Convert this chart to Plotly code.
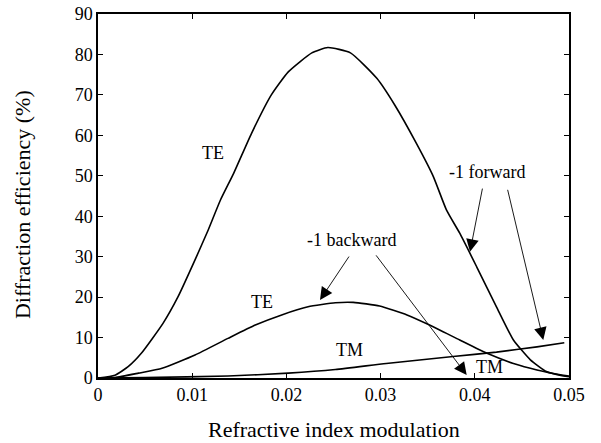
import plotly.graph_objects as go

# Data
te_fwd_x = [0, 0.0018, 0.0032, 0.0046, 0.0069, 0.0085, 0.0103, 0.0117, 0.0130, 0.0144,
            0.0163, 0.0184, 0.0202, 0.0227, 0.0244, 0.0268, 0.0296, 0.0315, 0.0338,
            0.0356, 0.0370, 0.0384, 0.0402, 0.0423, 0.0441, 0.0459, 0.0476, 0.0494, 0.0500]
te_fwd_y = [0, 0.7, 2.8, 6.1, 13.5, 20.1, 29.2, 36.6, 44.0, 50.6,
            60.5, 70.0, 75.7, 80.4, 81.7, 80.4, 74.1, 67.5, 58.0,
            49.8, 41.5, 35.8, 27.5, 17.6, 9.4, 4.5, 1.6, 0.5, 0.3]

te_bwd_x = [0, 0.0018, 0.0043, 0.0068, 0.0103, 0.0138, 0.0167, 0.0195, 0.0223, 0.0252,
            0.0271, 0.0299, 0.0328, 0.0352, 0.0384, 0.0413, 0.0441, 0.0466, 0.0494, 0.0500]
te_bwd_y = [0, 0.1, 1.2, 2.4, 5.7, 9.8, 13.1, 15.6, 17.6, 18.6,
            18.7, 17.8, 15.6, 13.1, 9.4, 6.1, 3.6, 2.0, 0.7, 0.5]

tm_x = [0, 0.005, 0.0138, 0.0202, 0.0252, 0.0306, 0.0377, 0.0423, 0.0466, 0.0495]
tm_y = [0, 0.1, 0.5, 1.2, 2.1, 3.6, 5.3, 6.4, 7.7, 8.7]

x_ticks = [0, 0.01, 0.02, 0.03, 0.04, 0.05]
x_tick_labels = ["0", "0.01", "0.02", "0.03", "0.04", "0.05"]
y_ticks = [0, 10, 20, 30, 40, 50, 60, 70, 80, 90]

FONT = "Liberation Serif, Times New Roman, serif"

fig = go.Figure()
for xs, ys in [(te_fwd_x, te_fwd_y), (te_bwd_x, te_bwd_y), (tm_x, tm_y)]:
    fig.add_trace(go.Scatter(x=xs, y=ys, mode="lines",
                             line=dict(color="black", width=1.6, shape="spline", smoothing=0.5),
                             showlegend=False, hoverinfo="skip", cliponaxis=True))

# Text labels
labels = [
    ("TE", 0.01221, 55.6),
    ("TE", 0.01738, 18.9),
    ("TM", 0.02675, 6.9),
    ("TM", 0.04154, 2.8),
    ("-1 backward", 0.02686, 34.1),
    ("-1 forward", 0.0413, 50.9),
]
for t, x, y in labels:
    fig.add_annotation(x=x, y=y, text=t, showarrow=False,
                       font=dict(family=FONT, size=18, color="black"))

# Arrows (tail -> tip)
arrows = [
    (0.02675, 30.4, 0.02357, 19.3),
    (0.0294, 30.7, 0.03914, 0.74),
    (0.04084, 47.2, 0.03949, 31.2),
    (0.04345, 46.9, 0.04727, 9.4),
]
for ax_, ay_, x, y in arrows:
    fig.add_annotation(x=x, y=y, ax=ax_, ay=ay_, axref="x", ayref="y",
                       text="", showarrow=True, arrowhead=2, arrowsize=2.8,
                       arrowwidth=0.9, arrowcolor="black")

# Axis titles
fig.add_annotation(xref="paper", yref="paper", x=0.5, y=0, yshift=-51,
                   text="Refractive index modulation", showarrow=False,
                   xanchor="center", yanchor="middle",
                   font=dict(family=FONT, size=22, color="black"))
fig.add_annotation(xref="paper", yref="paper", x=0, y=0.475, xshift=-76,
                   text="Diffraction efficiency (%)", showarrow=False, textangle=-90,
                   xanchor="center", yanchor="middle",
                   font=dict(family=FONT, size=22, color="black"))

axis_common = dict(showline=True, linecolor="black", linewidth=1.5, mirror="ticks",
                   ticks="inside", ticklen=5, tickcolor="black", tickwidth=1.2,
                   showgrid=False, zeroline=False, automargin=False,
                   tickfont=dict(family=FONT, size=18, color="black"))

fig.update_xaxes(range=[0, 0.05], tickvals=x_ticks, ticktext=x_tick_labels, **axis_common)
fig.update_yaxes(range=[0, 90], tickvals=y_ticks, **axis_common)

fig.update_layout(width=601, height=443,
                  margin=dict(l=98, r=32, t=14, b=65, autoexpand=False),
                  plot_bgcolor="white", paper_bgcolor="white")

fig.write_html("out.html")
